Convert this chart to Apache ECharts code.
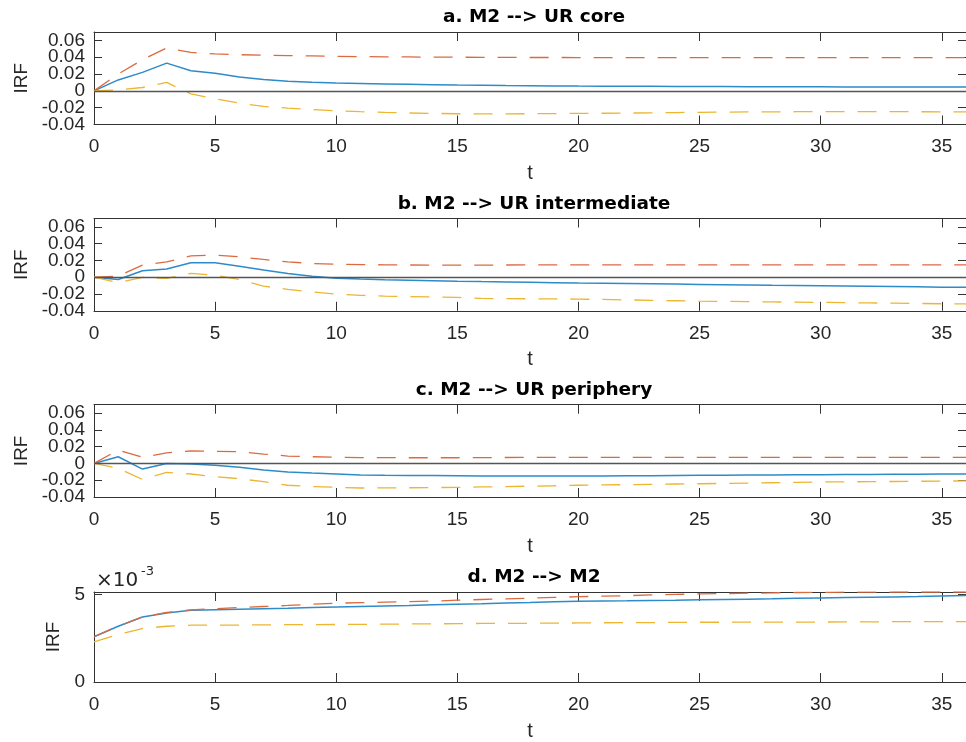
<!DOCTYPE html>
<html>
<head>
<meta charset="utf-8">
<script src="https://cdn.jsdelivr.net/npm/echarts@6/dist/echarts.min.js"></script>
<style>
  html, body { margin: 0; padding: 0; background: #fff; }
  #chart { width: 966px; height: 742px; }
</style>
</head>
<body>
<div id="chart"></div>
<script>
// ---- data ----
const t = Array.from({length: 37}, (_, i) => i); // horizons 0..36

const titles = ['a. M2 --> UR core', 'b. M2 --> UR intermediate', 'c. M2 --> UR periphery', 'd. M2 --> M2'];
const xTicks = [0, 5, 10, 15, 20, 25, 30, 35];
const yTicksUR = [-0.04, -0.02, 0, 0.02, 0.04, 0.06];
const yTicksM2 = [0, 5]; // x 10^-3

// a. M2 --> UR core
const coreIRF = [0, 0.013, 0.022, 0.033, 0.024, 0.021, 0.0165, 0.0135, 0.0115, 0.0102, 0.0093, 0.0088, 0.0083, 0.0078, 0.0073, 0.0069, 0.0066, 0.0063, 0.0061, 0.0059, 0.0057, 0.0056, 0.0055, 0.0054, 0.0053, 0.0052, 0.0051, 0.0050, 0.0049, 0.0048, 0.0048, 0.0047, 0.0047, 0.0046, 0.0046, 0.0045, 0.0045];
const coreUpper = [0, 0.02, 0.037, 0.051, 0.0457, 0.044, 0.043, 0.0425, 0.042, 0.0415, 0.041, 0.0407, 0.0405, 0.0403, 0.0401, 0.04, 0.0399, 0.0398, 0.0397, 0.0397, 0.0396, 0.0396, 0.0395, 0.0395, 0.0395, 0.0395, 0.0395, 0.0395, 0.0395, 0.0395, 0.0395, 0.0395, 0.0395, 0.0395, 0.0396, 0.0396, 0.0396];
const coreLower = [0, 0.001, 0.004, 0.01, -0.0035, -0.0094, -0.0146, -0.0185, -0.0205, -0.0222, -0.0237, -0.0248, -0.0256, -0.0263, -0.0268, -0.0272, -0.0273, -0.0273, -0.0272, -0.027, -0.0268, -0.0266, -0.0264, -0.0261, -0.0258, -0.0255, -0.0253, -0.0251, -0.025, -0.0248, -0.0247, -0.0246, -0.0246, -0.0247, -0.0248, -0.0249, -0.025];

// b. M2 --> UR intermediate
const interIRF = [0, -0.0027, 0.0077, 0.0097, 0.0172, 0.0172, 0.0132, 0.0085, 0.0045, 0.0013, -0.0011, -0.0022, -0.0029, -0.0035, -0.0041, -0.0047, -0.0052, -0.0056, -0.006, -0.0065, -0.007, -0.0073, -0.0076, -0.0079, -0.0082, -0.0086, -0.0089, -0.0092, -0.0096, -0.0099, -0.0102, -0.0105, -0.0108, -0.0111, -0.0114, -0.0118, -0.012];
const interUpper = [0, 0.0013, 0.0144, 0.0183, 0.0255, 0.0263, 0.0243, 0.0212, 0.0183, 0.0164, 0.0156, 0.0151, 0.0148, 0.0146, 0.0145, 0.0144, 0.0145, 0.0146, 0.0147, 0.0147, 0.0148, 0.0148, 0.0148, 0.0148, 0.0148, 0.0148, 0.0148, 0.0148, 0.0148, 0.0148, 0.0148, 0.0148, 0.0148, 0.0148, 0.0148, 0.0148, 0.0148];
const interLower = [0, -0.0066, -0.0002, -0.0014, 0.0045, 0.0025, -0.0027, -0.0106, -0.0145, -0.0174, -0.0201, -0.0215, -0.0225, -0.023, -0.0235, -0.024, -0.0253, -0.0255, -0.0257, -0.0258, -0.026, -0.0265, -0.027, -0.0275, -0.028, -0.0285, -0.0288, -0.0291, -0.0294, -0.0297, -0.03, -0.0303, -0.0306, -0.0309, -0.0312, -0.0316, -0.0318];

// c. M2 --> UR periphery
const periIRF = [0, 0.008, -0.0067, 0, -0.0007, -0.0023, -0.0046, -0.0079, -0.0102, -0.0115, -0.0126, -0.0138, -0.0141, -0.0143, -0.0145, -0.0146, -0.015, -0.015, -0.015, -0.015, -0.015, -0.0149, -0.0148, -0.0146, -0.0144, -0.0142, -0.0141, -0.0139, -0.0138, -0.0136, -0.0134, -0.0133, -0.0131, -0.013, -0.0128, -0.0126, -0.0125];
const periUpper = [0, 0.016, 0.0073, 0.0127, 0.0148, 0.0145, 0.014, 0.0112, 0.0088, 0.008, 0.0073, 0.007, 0.0069, 0.0068, 0.0068, 0.0068, 0.007, 0.0071, 0.0072, 0.0073, 0.0073, 0.0073, 0.0073, 0.0073, 0.0073, 0.0073, 0.0073, 0.0073, 0.0073, 0.0073, 0.0073, 0.0073, 0.0073, 0.0073, 0.0073, 0.0073, 0.0073];
const periLower = [0, -0.0058, -0.019, -0.0106, -0.0126, -0.0158, -0.0182, -0.0218, -0.026, -0.0275, -0.0285, -0.0293, -0.0292, -0.029, -0.0288, -0.0285, -0.028, -0.0276, -0.0271, -0.0266, -0.026, -0.0256, -0.0253, -0.0249, -0.0245, -0.0242, -0.0238, -0.0234, -0.023, -0.0225, -0.0221, -0.0219, -0.0217, -0.0215, -0.0213, -0.021, -0.0209];

// d. M2 --> M2 (in units of 10^-3)
const m2IRF = [2.59, 3.19, 3.72, 3.95, 4.10, 4.13, 4.16, 4.19, 4.22, 4.26, 4.29, 4.32, 4.35, 4.38, 4.42, 4.45, 4.48, 4.52, 4.55, 4.59, 4.62, 4.64, 4.65, 4.67, 4.68, 4.70, 4.72, 4.74, 4.76, 4.79, 4.81, 4.83, 4.85, 4.87, 4.89, 4.92, 4.95];
const m2Upper = [2.59, 3.19, 3.72, 3.98, 4.13, 4.19, 4.26, 4.32, 4.38, 4.45, 4.51, 4.54, 4.57, 4.60, 4.63, 4.68, 4.72, 4.76, 4.80, 4.84, 4.88, 4.91, 4.94, 4.98, 5.01, 5.04, 5.06, 5.08, 5.10, 5.12, 5.13, 5.14, 5.14, 5.15, 5.15, 5.15, 5.15];
const m2Lower = [2.29, 2.72, 3.06, 3.19, 3.25, 3.25, 3.26, 3.27, 3.28, 3.28, 3.29, 3.30, 3.31, 3.32, 3.33, 3.34, 3.35, 3.36, 3.36, 3.37, 3.38, 3.39, 3.40, 3.40, 3.41, 3.42, 3.42, 3.43, 3.43, 3.43, 3.43, 3.44, 3.44, 3.45, 3.45, 3.46, 3.46];

const panels = [
  {irf: coreIRF, up: coreUpper, lo: coreLower, yTicks: yTicksUR, yMax: 0.07, zero: true},
  {irf: interIRF, up: interUpper, lo: interLower, yTicks: yTicksUR, yMax: 0.07, zero: true},
  {irf: periIRF, up: periUpper, lo: periLower, yTicks: yTicksUR, yMax: 0.07, zero: true},
  {irf: m2IRF, up: m2Upper, lo: m2Lower, yTicks: yTicksM2, yMax: 5.15, zero: false}
];

// ---- layout / style ----
const gridTops = [32, 218.5, 404.7, 592];
const gridHeights = [92.5, 92.3, 92.3, 91.3];
const plotLeft = 94, plotWidth = 880;
const axisColor = '#333333';
const textColor = '#262626';
const fontTick = 'Liberation Sans, Arial, Helvetica, sans-serif';
const C_BLUE = '#2E8BC9', C_RED = '#DC6A3F', C_YEL = '#EDB530';

const grid = [], xAxis = [], yAxis = [], series = [], title = [];
const yLabelStyle = {fontFamily: fontTick, fontSize: 19, color: textColor};

panels.forEach((p, i) => {
  grid.push({left: plotLeft, width: plotWidth, top: gridTops[i], height: gridHeights[i], containLabel: false});
  const xMin = xTicks[0], xInt = xTicks[1] - xTicks[0];
  const yMin = p.yTicks[0], yInt = p.yTicks[1] - p.yTicks[0];
  const crowded = p.yTicks.length > 2; // lowest label needs its own axis to avoid auto-hiding
  // bottom x
  const xi = xAxis.length;
  xAxis.push({
    type: 'value', gridIndex: i, position: 'bottom', min: xMin, max: t[t.length - 1], interval: xInt,
    name: 't', nameLocation: 'middle', nameGap: 39,
    nameTextStyle: {fontFamily: fontTick, fontSize: 20, color: textColor},
    axisLine: {show: true, onZero: false, lineStyle: {color: axisColor, width: 1}},
    axisTick: {show: true, inside: true, length: 9, lineStyle: {color: axisColor}},
    axisLabel: {show: true, margin: 13, fontFamily: fontTick, fontSize: 19, color: textColor, showMinLabel: true, showMaxLabel: false},
    splitLine: {show: false}
  });
  // top x (box)
  xAxis.push({
    type: 'value', gridIndex: i, position: 'top', min: xMin, max: t[t.length - 1], interval: xInt,
    axisLine: {show: true, onZero: false, lineStyle: {color: axisColor, width: 1}},
    axisTick: {show: true, inside: true, length: 9, lineStyle: {color: axisColor}},
    axisLabel: {show: false}, splitLine: {show: false}
  });
  // left y
  const yi = yAxis.length;
  yAxis.push({
    type: 'value', gridIndex: i, position: 'left', min: yMin, max: p.yMax, interval: yInt,
    name: 'IRF', nameLocation: 'middle', nameGap: i < 3 ? 62 : 27,
    nameTextStyle: {fontFamily: fontTick, fontSize: 19, color: textColor},
    axisLine: {show: true, onZero: false, lineStyle: {color: axisColor, width: 1}},
    axisTick: {show: true, inside: true, length: 8, lineStyle: {color: axisColor}},
    axisLabel: Object.assign({show: true, margin: 9, showMinLabel: !crowded, showMaxLabel: false}, yLabelStyle),
    splitLine: {show: false}
  });
  if (crowded) {
    // label for the lowest tick only
    yAxis.push({
      type: 'value', gridIndex: i, position: 'left', offset: 0, min: yMin, max: p.yMax, interval: yInt,
      axisLine: {show: false}, axisTick: {show: false}, splitLine: {show: false},
      axisLabel: Object.assign({show: true, margin: 9, customValues: [yMin]}, yLabelStyle)
    });
  }
  // right y (box)
  yAxis.push({
    type: 'value', gridIndex: i, position: 'right', min: yMin, max: p.yMax, interval: yInt,
    axisLine: {show: true, onZero: false, lineStyle: {color: axisColor, width: 1}},
    axisTick: {show: true, inside: true, length: 8, lineStyle: {color: axisColor}},
    axisLabel: {show: false}, splitLine: {show: false}
  });

  const toXY = arr => arr.map((v, k) => [t[k], v]);
  const blue = {
    type: 'line', xAxisIndex: xi, yAxisIndex: yi, data: toXY(p.irf), showSymbol: false, symbol: 'none',
    lineStyle: {color: C_BLUE, width: 1.5}, z: 3, animation: false
  };
  if (p.zero) {
    blue.markLine = {
      silent: true, symbol: 'none', animation: false, label: {show: false},
      lineStyle: {color: '#555555', width: 1.4, type: 'solid'},
      data: [{yAxis: 0}]
    };
  }
  series.push(blue);
  series.push({
    type: 'line', xAxisIndex: xi, yAxisIndex: yi, data: toXY(p.up), showSymbol: false, symbol: 'none',
    lineStyle: {color: C_RED, width: 1.3, type: [19, 13]}, z: 4, animation: false
  });
  series.push({
    type: 'line', xAxisIndex: xi, yAxisIndex: yi, data: toXY(p.lo), showSymbol: false, symbol: 'none',
    lineStyle: {color: C_YEL, width: 1.3, type: [19, 13]}, z: 4, animation: false
  });

  title.push({
    text: titles[i], left: plotLeft + plotWidth / 2, textAlign: 'center', top: gridTops[i] - 24, padding: 0,
    textStyle: {fontFamily: 'DejaVu Sans, sans-serif', fontWeight: 'bold', fontSize: 18.5, color: '#000'}
  });
});

// exponent marker for panel d
title.push({
  text: '×10', left: 96, top: gridTops[3] - 21, padding: 0,
  textStyle: {fontFamily: 'DejaVu Sans, sans-serif', fontWeight: 'normal', fontSize: 20, color: textColor}
});
title.push({
  text: '-3', left: 141, top: gridTops[3] - 27, padding: 0,
  textStyle: {fontFamily: 'DejaVu Sans, sans-serif', fontWeight: 'normal', fontSize: 13, color: textColor}
});

const chart = echarts.init(document.getElementById('chart'));
chart.setOption({
  animation: false,
  backgroundColor: '#ffffff',
  title, grid, xAxis, yAxis, series
});
</script>
</body>
</html>
